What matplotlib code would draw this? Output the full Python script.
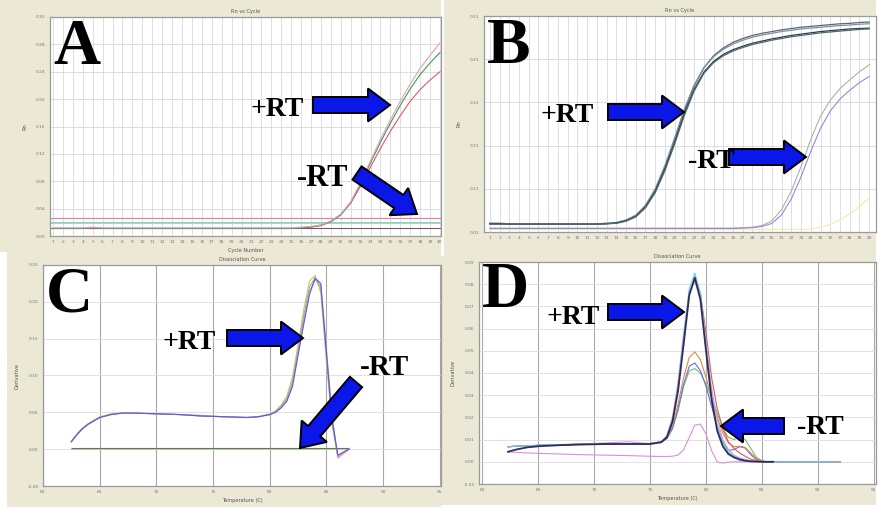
import numpy as np
import matplotlib
matplotlib.use("Agg")
import matplotlib.pyplot as plt
from matplotlib.patches import Rectangle, FancyArrow

# ---- panel A: Rn vs cycle, +RT curves and flat -RT lines ----
cycles = list(range(1, 41))
a_rt_pink = [0.012, 0.012, 0.012, 0.012, 0.013, 0.012, 0.012, 0.012, 0.012, 0.012,
             0.012, 0.012, 0.012, 0.012, 0.012, 0.012, 0.012, 0.012, 0.012, 0.012,
             0.012, 0.012, 0.012, 0.012, 0.012, 0.013, 0.014, 0.016, 0.022, 0.032,
             0.050, 0.078, 0.110, 0.141, 0.170, 0.197, 0.222, 0.245, 0.264, 0.282]
a_rt_green = [0.011, 0.011, 0.011, 0.011, 0.012, 0.011, 0.011, 0.011, 0.011, 0.011,
              0.011, 0.011, 0.011, 0.011, 0.011, 0.011, 0.011, 0.011, 0.011, 0.011,
              0.011, 0.011, 0.011, 0.011, 0.011, 0.012, 0.013, 0.016, 0.021, 0.031,
              0.049, 0.076, 0.107, 0.137, 0.165, 0.191, 0.215, 0.236, 0.253, 0.268]
a_rt_red = [0.011, 0.011, 0.011, 0.011, 0.011, 0.011, 0.011, 0.011, 0.011, 0.011,
            0.011, 0.011, 0.011, 0.011, 0.011, 0.011, 0.011, 0.011, 0.011, 0.011,
            0.011, 0.011, 0.011, 0.011, 0.011, 0.012, 0.013, 0.015, 0.021, 0.031,
            0.048, 0.073, 0.101, 0.128, 0.153, 0.176, 0.197, 0.214, 0.228, 0.240]
a_nrt_levels = [0.026, 0.021, 0.019, 0.012]
a_nrt_colors = ["#e27ab8", "#7fd3e3", "#a9dca0", "#7a5a5a"]
a_yticks = [0.00, 0.04, 0.08, 0.12, 0.16, 0.20, 0.24, 0.28, 0.32]

# ---- panel B ----
b_rt_1 = [0.030, 0.030, 0.029, 0.029, 0.029, 0.029, 0.029, 0.029, 0.029, 0.029,
          0.029, 0.029, 0.030, 0.031, 0.036, 0.046, 0.068, 0.105, 0.158, 0.222,
          0.290, 0.348, 0.390, 0.418, 0.436, 0.449, 0.458, 0.465, 0.470, 0.474,
          0.478, 0.481, 0.484, 0.486, 0.488, 0.490, 0.492, 0.493, 0.495, 0.496]
b_rt_2 = [0.030, 0.030, 0.029, 0.029, 0.029, 0.029, 0.029, 0.029, 0.029, 0.029,
          0.029, 0.029, 0.030, 0.032, 0.038, 0.049, 0.072, 0.110, 0.164, 0.228,
          0.295, 0.350, 0.390, 0.416, 0.433, 0.445, 0.454, 0.461, 0.466, 0.470,
          0.474, 0.477, 0.480, 0.482, 0.484, 0.486, 0.488, 0.489, 0.491, 0.492]
b_rt_3 = [0.029, 0.029, 0.028, 0.028, 0.028, 0.028, 0.028, 0.028, 0.028, 0.028,
          0.028, 0.028, 0.029, 0.031, 0.036, 0.046, 0.068, 0.104, 0.156, 0.218,
          0.284, 0.340, 0.380, 0.405, 0.421, 0.432, 0.440, 0.447, 0.452, 0.457,
          0.461, 0.465, 0.468, 0.471, 0.474, 0.476, 0.478, 0.480, 0.481, 0.482]
b_rt_4 = [0.028, 0.028, 0.028, 0.028, 0.028, 0.028, 0.028, 0.028, 0.028, 0.028,
          0.028, 0.028, 0.029, 0.030, 0.035, 0.045, 0.066, 0.101, 0.152, 0.214,
          0.280, 0.336, 0.377, 0.402, 0.418, 0.429, 0.437, 0.444, 0.449, 0.454,
          0.458, 0.462, 0.465, 0.468, 0.471, 0.473, 0.475, 0.477, 0.479, 0.480]
b_nrt_1 = [0.019, 0.019, 0.019, 0.019, 0.019, 0.019, 0.019, 0.019, 0.019, 0.019,
           0.019, 0.019, 0.019, 0.019, 0.019, 0.019, 0.019, 0.019, 0.019, 0.019,
           0.019, 0.019, 0.019, 0.019, 0.019, 0.019, 0.020, 0.021, 0.025, 0.036,
           0.062, 0.105, 0.162, 0.225, 0.278, 0.315, 0.342, 0.362, 0.381, 0.397]
b_nrt_2 = [0.018, 0.018, 0.018, 0.018, 0.018, 0.018, 0.018, 0.018, 0.018, 0.018,
           0.018, 0.018, 0.018, 0.018, 0.018, 0.018, 0.018, 0.018, 0.018, 0.018,
           0.018, 0.018, 0.018, 0.018, 0.018, 0.018, 0.019, 0.020, 0.023, 0.030,
           0.050, 0.087, 0.138, 0.197, 0.250, 0.290, 0.318, 0.338, 0.356, 0.370]
b_faint = [0.016, 0.016, 0.016, 0.016, 0.016, 0.016, 0.016, 0.016, 0.016, 0.016,
           0.016, 0.016, 0.016, 0.016, 0.016, 0.016, 0.016, 0.016, 0.016, 0.016,
           0.016, 0.016, 0.016, 0.016, 0.016, 0.016, 0.016, 0.016, 0.016, 0.016,
           0.016, 0.016, 0.016, 0.017, 0.021, 0.028, 0.038, 0.052, 0.069, 0.088]
b_yticks = [0.01, 0.11, 0.21, 0.31, 0.41, 0.51]

# ---- panel C: dissociation curve ----
c_temp = [62.5, 63.0, 63.5, 64.0, 65.0, 66.0, 67.0, 68.0, 70.0, 72.0, 74.0, 76.0, 78.0, 79.0, 80.0,
          80.5, 81.0, 81.5, 82.0, 82.5, 83.0, 83.5, 84.0, 84.5, 85.0, 85.5, 86.0, 86.5, 87.0]
c_blue = [0.010, 0.020, 0.028, 0.034, 0.043, 0.047, 0.049, 0.049, 0.048, 0.047, 0.045, 0.044, 0.043, 0.044, 0.047,
          0.050, 0.056, 0.065, 0.085, 0.128, 0.170, 0.210, 0.232, 0.225, 0.130, 0.040, -0.008, -0.004, 0.000]
c_yellow = [0.011, 0.021, 0.029, 0.035, 0.044, 0.048, 0.049, 0.049, 0.048, 0.047, 0.046, 0.044, 0.043, 0.044, 0.048,
            0.052, 0.060, 0.072, 0.098, 0.142, 0.190, 0.228, 0.236, 0.212, 0.118, 0.032, -0.010, -0.005, 0.000]
c_pink = [0.010, 0.020, 0.028, 0.034, 0.043, 0.047, 0.049, 0.049, 0.048, 0.047, 0.045, 0.044, 0.043, 0.044, 0.047,
          0.050, 0.057, 0.067, 0.088, 0.132, 0.175, 0.214, 0.230, 0.222, 0.135, 0.045, -0.012, -0.006, 0.000]
c_green = [0.010, 0.020, 0.028, 0.034, 0.043, 0.047, 0.049, 0.049, 0.048, 0.047, 0.045, 0.044, 0.043, 0.044, 0.047,
           0.051, 0.058, 0.069, 0.092, 0.136, 0.182, 0.220, 0.233, 0.218, 0.125, 0.036, -0.009, -0.004, 0.000]
c_nrt_levels = [0.001, 0.000]
c_nrt_range = [62.5, 87.0]
c_yticks = [-0.05, 0.00, 0.05, 0.10, 0.15, 0.20, 0.25]
temp_ticks = [60, 65, 70, 75, 80, 85, 90, 95]

# ---- panel D ----
nan = np.nan
d_temp = [62.3, 63, 64, 65, 67, 69, 71, 73, 75, 76, 76.5, 77, 77.5, 78, 78.5, 79, 79.5,
          80, 80.5, 81, 81.5, 82, 82.5, 83, 83.5, 84, 84.5, 85, 85.5, 86, 88, 90, 92]
d_navy = [0.0045, 0.0055, 0.0065, 0.0070, 0.0075, 0.0078, 0.0080, 0.0080, 0.0080, 0.0088, 0.0110, 0.0180,
          0.0320, 0.0530, 0.0750, 0.0830, 0.0730, 0.0500, 0.0280, 0.0140, 0.0070, 0.0035, 0.0020, 0.0010,
          0.0005, 0.0002, 0.0001, 0.0000, 0.0000, 0.0000, nan, nan, nan]
d_cyan = [0.0068, 0.0070, 0.0072, 0.0074, 0.0077, 0.0079, 0.0081, 0.0082, 0.0082, 0.0090, 0.0115, 0.0190,
          0.0340, 0.0560, 0.0780, 0.0850, 0.0760, 0.0530, 0.0300, 0.0160, 0.0085, 0.0045, 0.0025, 0.0015,
          0.0008, 0.0004, 0.0002, 0.0001, 0.0000, 0.0000, 0.0000, 0.0000, 0.0000]
d_pink = [0.0068, 0.0070, 0.0072, 0.0074, 0.0078, 0.0080, 0.0085, 0.0090, 0.0082, 0.0090, 0.0120, 0.0200,
          0.0360, 0.0580, 0.0770, 0.0810, 0.0740, 0.0540, 0.0330, 0.0190, 0.0100, 0.0055, 0.0030, 0.0018,
          0.0010, 0.0005, 0.0002, 0.0001, 0.0000, 0.0000, 0.0000, 0.0000, 0.0000]
d_red = [0.0068, 0.0070, 0.0072, 0.0074, 0.0077, 0.0079, 0.0081, 0.0082, 0.0082, 0.0090, 0.0115, 0.0185,
         0.0330, 0.0550, 0.0760, 0.0820, 0.0760, 0.0580, 0.0380, 0.0240, 0.0150, 0.0090, 0.0060, 0.0040,
         0.0025, 0.0012, 0.0005, 0.0002, 0.0000, 0.0000, 0.0000, 0.0000, 0.0000]
d_orange = [0.0068, 0.0070, 0.0072, 0.0074, 0.0077, 0.0079, 0.0081, 0.0082, 0.0082, 0.0090, 0.0110, 0.0160,
            0.0260, 0.0380, 0.0470, 0.0495, 0.0460, 0.0380, 0.0290, 0.0200, 0.0130, 0.0085, 0.0068, 0.0070,
            0.0065, 0.0040, 0.0015, 0.0003, 0.0000, 0.0000, 0.0000, 0.0000, 0.0000]
d_blue = [0.0068, 0.0070, 0.0072, 0.0074, 0.0077, 0.0079, 0.0081, 0.0082, 0.0082, 0.0090, 0.0105, 0.0150,
          0.0240, 0.0350, 0.0430, 0.0445, 0.0410, 0.0340, 0.0250, 0.0160, 0.0090, 0.0052, 0.0055, 0.0068,
          0.0062, 0.0032, 0.0010, 0.0000, 0.0000, 0.0000, 0.0000, 0.0000, 0.0000]
d_green = [0.0068, 0.0070, 0.0072, 0.0074, 0.0077, 0.0079, 0.0081, 0.0082, 0.0082, 0.0090, 0.0105, 0.0150,
           0.0230, 0.0340, 0.0410, 0.0420, 0.0400, 0.0350, 0.0290, 0.0220, 0.0150, 0.0110, 0.0100, 0.0112,
           0.0100, 0.0060, 0.0020, 0.0005, 0.0000, 0.0000, 0.0000, 0.0000, 0.0000]
d_nrt = [0.0045, 0.0043, 0.0040, 0.0038, 0.0035, 0.0032, 0.0030, 0.0028, 0.0025, 0.0024, 0.0024, 0.0025,
         0.0030, 0.0055, 0.0110, 0.0165, 0.0170, 0.0125, 0.0050, 0.0000, -0.0006, -0.0002, 0.0000, 0.0000,
         0.0000, 0.0000, 0.0000, 0.0000, 0.0000, 0.0000, 0.0000, 0.0000, 0.0000]
d_yticks = [-0.01, 0.00, 0.01, 0.02, 0.03, 0.04, 0.05, 0.06, 0.07, 0.08, 0.09]

W, H = 882, 517
BEIGE = "#ebe8d6"
TICK = "#777777"
fig = plt.figure(figsize=(W / 100, H / 100), dpi=100)
fig.patch.set_facecolor("white")


def px_rect(l, t, r, b):
    return [l / W, 1 - b / H, (r - l) / W, (b - t) / H]


# background panels (beige window areas)
bg = fig.add_axes([0, 0, 1, 1], zorder=0)
bg.set_xlim(0, W)
bg.set_ylim(H, 0)
bg.axis("off")
for (x0, y0, x1, y1) in [(0, 0, 441, 252), (444, 0, 876, 256), (7, 252, 441, 507), (441, 256, 876, 505)]:
    bg.add_patch(Rectangle((x0, y0), x1 - x0, y1 - y0, facecolor=BEIGE, edgecolor="none"))


def base_style(ax, title, xlabel, ylabel):
    ax.set_facecolor("white")
    for s in ax.spines.values():
        s.set_color("#9a9a9a")
        s.set_linewidth(0.9)
    ax.tick_params(length=0, labelsize=3.2, labelcolor=TICK, pad=3)
    ax.set_title(title, fontsize=3.6, color="#555555", pad=3)
    ax.set_xlabel(xlabel, fontsize=3.6, color="#555555", labelpad=3)
    ax.set_ylabel(ylabel, fontsize=3.6, color="#555555", labelpad=6)


# ---- A ----
axA = fig.add_axes(px_rect(50, 17, 441, 236), zorder=1)
base_style(axA, "Rn vs Cycle", "Cycle Number", "Rn")
axA.set_xticks(cycles)
axA.set_yticks(a_yticks)
axA.set_yticklabels([f"{v:.2f}" for v in a_yticks])
axA.grid(True, color="#d9d9d9", linewidth=0.6)
axA.set_xlim(0.7, 40.1)
axA.set_ylim(a_yticks[0], a_yticks[-1])
for lv, col in zip(a_nrt_levels, a_nrt_colors):
    axA.axhline(lv, color=col, linewidth=0.8)
axA.plot(cycles, a_rt_red, color="#d65a78", linewidth=0.8)
axA.plot(cycles, a_rt_green, color="#3f9a5a", linewidth=0.8)
axA.plot(cycles, a_rt_pink, color="#e7a0b0", linewidth=0.8)

# ---- B ----
axB = fig.add_axes(px_rect(484, 16, 876, 232), zorder=1)
base_style(axB, "Rn vs Cycle", "", "Rn")
axB.set_xticks(cycles)
axB.set_yticks(b_yticks)
axB.set_yticklabels([f"{v:.2f}" for v in b_yticks])
axB.grid(True, color="#d9d9d9", linewidth=0.6)
axB.set_xlim(0.4, 40.7)
axB.set_ylim(b_yticks[0], b_yticks[-1])
axB.plot(cycles, b_faint, color="#eef0a8", linewidth=0.8)
axB.plot(cycles, b_nrt_1, color="#a8b4a8", linewidth=0.8)
axB.plot(cycles, b_nrt_2, color="#9a86e0", linewidth=0.8)
for vals, col in zip([b_rt_1, b_rt_2, b_rt_3, b_rt_4], ["#5a6878", "#7d8fa0", "#2f3a48", "#4e6a6e"]):
    axB.plot(cycles, vals, color=col, linewidth=0.9)

# ---- C ----
axC = fig.add_axes(px_rect(43, 265, 441, 486), zorder=1)
base_style(axC, "Dissociation Curve", "Temperature (C)", "Derivative")
axC.set_xticks(temp_ticks)
axC.set_yticks(c_yticks)
axC.set_yticklabels([f"{v:.2f}" for v in c_yticks])
axC.grid(True, axis="x", color="#a8a8a8", linewidth=0.8)
axC.grid(True, axis="y", color="#dcdcdc", linewidth=0.6)
axC.set_xlim(60, 95.1)
axC.set_ylim(c_yticks[0], c_yticks[-1])
for lv, col in zip(c_nrt_levels, ["#6a6a6a", "#b0d0a0"]):
    axC.hlines(lv, c_nrt_range[0], c_nrt_range[1], color=col, linewidth=0.8)
for vals, col in zip([c_yellow, c_green, c_pink, c_blue], ["#d8c060", "#80c890", "#e48ab0", "#5a5ae0"]):
    axC.plot(c_temp, vals, color=col, linewidth=0.8)

# ---- D ----
axD = fig.add_axes(px_rect(479, 262, 876, 484), zorder=1)
base_style(axD, "Dissociation Curve", "Temperature (C)", "Derivative")
axD.set_xticks(temp_ticks)
axD.set_yticks(d_yticks)
axD.set_yticklabels([f"{v:.2f}" for v in d_yticks])
axD.grid(True, axis="x", color="#a8a8a8", linewidth=0.8)
axD.grid(True, axis="y", color="#dcdcdc", linewidth=0.6)
axD.set_xlim(59.7, 95.2)
axD.set_ylim(d_yticks[0], d_yticks[-1])
axD.plot(d_temp, d_nrt, color="#d890d8", linewidth=0.8)
for vals, col in zip([d_green, d_blue, d_orange, d_red, d_pink, d_cyan],
                     ["#70c070", "#6a6ae8", "#e08a3a", "#e05a5a", "#e890c8", "#60d0e8"]):
    axD.plot(d_temp, vals, color=col, linewidth=0.8)
axD.plot(d_temp, d_navy, color="#2a2e5e", linewidth=1.3)

# ---- overlay: panel letters, labels, arrows (pixel coordinates) ----
ov = fig.add_axes([0, 0, 1, 1], zorder=10)
ov.set_xlim(0, W)
ov.set_ylim(H, 0)
ov.axis("off")
ov.patch.set_alpha(0)

serif = dict(family="Liberation Serif", weight="bold", color="black")
for letter, x, y in [("A", 53, 64), ("B", 487, 63), ("C", 46, 312), ("D", 482, 307)]:
    ov.text(x, y, letter, fontsize=47, va="baseline", ha="left", **serif)

for txt, x, y, fs in [("+RT", 250, 116, 20), ("-RT", 297, 186, 22),
                      ("+RT", 540, 122, 20), ("-RT", 688, 168, 20),
                      ("+RT", 163, 349, 20), ("-RT", 360, 375, 21),
                      ("+RT", 547, 324, 20), ("-RT", 797, 434, 20)]:
    ov.text(x, y, txt, fontsize=fs, va="baseline", ha="left", **serif)

arrows = [(313, 105, 77, 0), (357, 173, 60, 41),
          (608, 112, 76, 0), (729, 157, 77, 0),
          (227, 338, 76, 0), (356, 382, -56, 66),
          (608, 312, 76, 0), (784, 426, -63, 0)]
for x, y, dx, dy in arrows:
    ov.add_patch(FancyArrow(x, y, dx, dy, width=16, head_width=33, head_length=22,
                            length_includes_head=True, facecolor="#0b17e8",
                            edgecolor="black", linewidth=1.4))

fig.savefig("out.png", dpi=100)
